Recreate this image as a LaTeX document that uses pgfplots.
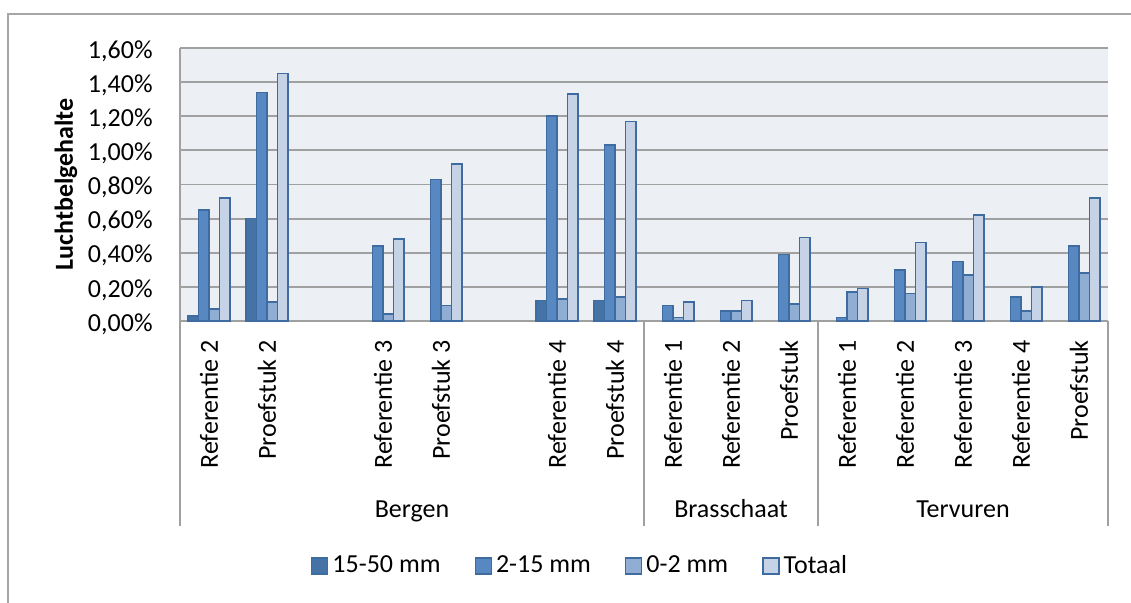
\documentclass[border=0pt]{standalone}
\usepackage{fontspec}
\setmainfont{Carlito}
\usepackage{pgfplots}
\pgfplotsset{compat=1.18}
\definecolor{cA}{HTML}{4673A6}
\definecolor{cB}{HTML}{5788C2}
\definecolor{cC}{HTML}{90ADD4}
\definecolor{cD}{HTML}{C6D2E6}
\definecolor{bord}{HTML}{3E6CA0}
\definecolor{bg}{HTML}{ECEFF4}
\definecolor{gridc}{HTML}{A0A0A0}
\definecolor{framec}{HTML}{A6A6A6}
\begin{document}
\fontsize{13}{15.6}\selectfont
\begin{tikzpicture}[font=\fontsize{13}{15.6}\selectfont]
\useasboundingbox (0,0) rectangle (565.5pt,301.5pt);
\draw[framec, line width=1pt] (4pt,0pt) -- (4pt,294.5pt) -- (565.5pt,294.5pt);
\begin{axis}[
  at={(90pt,141pt)}, anchor=south west,
  width=464pt, height=136.5pt, scale only axis,
  xmin=-0.5, xmax=15.5, ymin=0, ymax=1.6,
  ybar=0pt, bar width=5.25pt,
  clip=false,
  axis background/.style={fill=bg},
  axis lines*=left,
  axis line style={draw=gridc, line width=1pt},
  ymajorgrids, grid style={draw=gridc, line width=0.9pt},
  major tick length=0pt,
  ytick={0,0.2,0.4,0.6,0.8,1.0,1.2,1.4,1.6},
  yticklabels={{0,00\%},{0,20\%},{0,40\%},{0,60\%},{0,80\%},{1,00\%},{1,20\%},{1,40\%},{1,60\%}},
  yticklabel style={inner sep=0pt, anchor=east, xshift=-13.5pt, yshift=-1.5pt},
  xtick={0,1,3,4,6,7,8,9,10,11,12,13,14,15},
  xticklabels={Referentie 2, Proefstuk 2, Referentie 3, Proefstuk 3, Referentie 4, Proefstuk 4, Referentie 1, Referentie 2, Proefstuk, Referentie 1, Referentie 2, Referentie 3, Referentie 4, Proefstuk},
  xticklabel style={yshift=-9.5pt, rotate=90, anchor=east, inner sep=0pt},
  legend columns=4,
  legend style={draw=none, fill=none, at={(axis description cs:0.4321,-0.8974)}, anchor=center,
    /tikz/every even column/.append style={column sep=15pt}},
  legend image code/.code={\draw[#1, line width=0.75pt] (0pt,-4pt) rectangle (8pt,4pt);},
]
\addplot[fill=cA, draw=bord, line width=0.75pt] coordinates {(0,0.03)(1,0.60)(6,0.12)(7,0.12)};
\addplot[fill=cB, draw=bord, line width=0.75pt] coordinates {(0,0.65)(1,1.34)(3,0.44)(4,0.83)(6,1.20)(7,1.03)(8,0.09)(9,0.06)(10,0.39)(11,0.02)(12,0.30)(13,0.35)(14,0.14)(15,0.44)};
\addplot[fill=cC, draw=bord, line width=0.75pt] coordinates {(0,0.07)(1,0.11)(3,0.04)(4,0.09)(6,0.13)(7,0.14)(8,0.02)(9,0.06)(10,0.10)(11,0.17)(12,0.16)(13,0.27)(14,0.06)(15,0.28)};
\addplot[fill=cD, draw=bord, line width=0.75pt] coordinates {(0,0.72)(1,1.45)(3,0.48)(4,0.92)(6,1.33)(7,1.17)(8,0.11)(9,0.12)(10,0.49)(11,0.19)(12,0.46)(13,0.62)(14,0.20)(15,0.72)};
\legend{15-50 mm, 2-15 mm, 0-2 mm, Totaal}
\end{axis}
\foreach \x in {90,322,409,554} \draw[gridc, line width=1pt] (\x pt,141pt) -- (\x pt,38.5pt);
\node[anchor=base] at (206pt,42.8pt) {Bergen};
\node[anchor=base] at (365.5pt,42.8pt) {Brasschaat};
\node[anchor=base] at (481.5pt,42.8pt) {Tervuren};
\node[rotate=90, font=\fontsize{13}{15.6}\selectfont\bfseries] at (33pt,209.25pt) {Luchtbelgehalte};
\end{tikzpicture}
\end{document}
